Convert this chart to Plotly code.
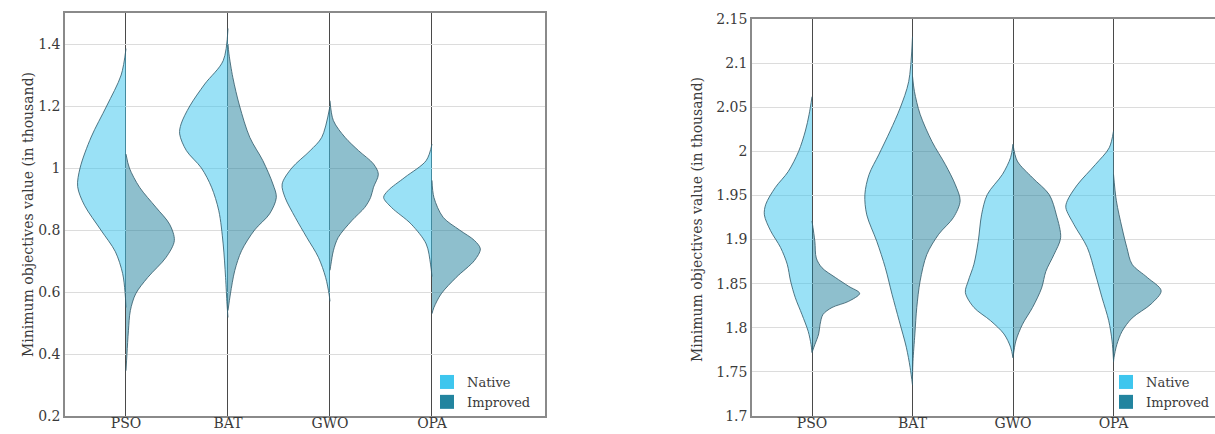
import plotly.graph_objects as go

# ---------------- data ----------------
algorithms = ["PSO", "BAT", "GWO", "OPA"]

# Left panel: relative half-width profiles (value in thousand, relative density)
L_PSO_native_v = [1.385, 1.30, 1.20, 1.10, 1.00, 0.94, 0.88, 0.80, 0.73, 0.66, 0.60, 0.55]
L_PSO_native_d = [0.0, 0.10, 0.40, 0.72, 0.95, 1.0, 0.86, 0.52, 0.22, 0.07, 0.02, 0.0]
L_PSO_impr_v = [1.045, 1.00, 0.938, 0.873, 0.819, 0.766, 0.712, 0.647, 0.594, 0.54, 0.475, 0.40, 0.346]
L_PSO_impr_d = [0.0, 0.07, 0.28, 0.62, 0.90, 1.0, 0.83, 0.45, 0.20, 0.09, 0.05, 0.02, 0.0]

L_BAT_native_v = [1.45, 1.346, 1.271, 1.20, 1.142, 1.11, 1.056, 1.00, 0.938, 0.862, 0.755, 0.647, 0.561, 0.518]
L_BAT_native_d = [0.0, 0.10, 0.48, 0.79, 0.97, 1.0, 0.86, 0.55, 0.34, 0.19, 0.10, 0.05, 0.02, 0.0]
L_BAT_impr_v = [1.40, 1.368, 1.292, 1.20, 1.099, 1.024, 0.948, 0.905, 0.852, 0.80, 0.733, 0.669, 0.594, 0.54]
L_BAT_impr_d = [0.0, 0.02, 0.10, 0.24, 0.45, 0.72, 0.93, 1.0, 0.86, 0.55, 0.28, 0.14, 0.05, 0.0]

L_GWO_native_v = [1.20, 1.099, 1.056, 1.00, 0.948, 0.905, 0.841, 0.776, 0.712, 0.647, 0.594, 0.57]
L_GWO_native_d = [0.0, 0.17, 0.41, 0.79, 0.99, 0.93, 0.72, 0.48, 0.24, 0.09, 0.02, 0.0]
L_GWO_impr_v = [1.217, 1.153, 1.099, 1.056, 1.013, 0.98, 0.938, 0.905, 0.873, 0.83, 0.776, 0.733, 0.69, 0.67]
L_GWO_impr_d = [0.0, 0.07, 0.31, 0.59, 0.90, 1.0, 0.90, 0.84, 0.72, 0.45, 0.17, 0.07, 0.02, 0.0]

L_OPA_native_v = [1.077, 1.024, 0.97, 0.927, 0.905, 0.873, 0.819, 0.755, 0.69, 0.65]
L_OPA_native_d = [0.0, 0.12, 0.56, 0.91, 1.0, 0.84, 0.43, 0.12, 0.03, 0.0]
L_OPA_impr_v = [0.96, 0.905, 0.841, 0.80, 0.766, 0.739, 0.702, 0.647, 0.594, 0.55, 0.53]
L_OPA_impr_d = [0.0, 0.04, 0.23, 0.57, 0.88, 1.0, 0.88, 0.50, 0.19, 0.04, 0.0]

# Right panel
R_PSO_native_v = [2.062, 2.042, 2.023, 2.00, 1.977, 1.959, 1.94, 1.928, 1.91, 1.891, 1.872, 1.853, 1.834, 1.815, 1.796, 1.781, 1.772]
R_PSO_native_d = [0.0, 0.06, 0.14, 0.28, 0.50, 0.77, 0.97, 1.0, 0.87, 0.66, 0.52, 0.45, 0.35, 0.21, 0.08, 0.02, 0.0]
R_PSO_impr_v = [1.921, 1.898, 1.879, 1.868, 1.857, 1.847, 1.839, 1.830, 1.823, 1.815, 1.804, 1.793, 1.781, 1.772]
R_PSO_impr_d = [0.0, 0.06, 0.09, 0.21, 0.49, 0.77, 1.0, 0.77, 0.42, 0.23, 0.17, 0.14, 0.06, 0.0]

R_BAT_native_v = [2.13, 2.079, 2.049, 2.023, 1.996, 1.974, 1.951, 1.928, 1.898, 1.868, 1.838, 1.808, 1.778, 1.755, 1.735]
R_BAT_native_d = [0.0, 0.08, 0.26, 0.47, 0.71, 0.91, 1.0, 0.96, 0.75, 0.57, 0.43, 0.28, 0.13, 0.05, 0.0]
R_BAT_impr_v = [2.085, 2.068, 2.042, 2.011, 1.985, 1.962, 1.944, 1.925, 1.906, 1.883, 1.853, 1.823, 1.793, 1.762, 1.745]
R_BAT_impr_d = [0.0, 0.04, 0.16, 0.41, 0.69, 0.90, 1.0, 0.86, 0.55, 0.30, 0.16, 0.09, 0.05, 0.01, 0.0]

R_GWO_native_v = [2.008, 1.993, 1.974, 1.951, 1.928, 1.898, 1.872, 1.853, 1.840, 1.823, 1.808, 1.793, 1.778, 1.766]
R_GWO_native_d = [0.0, 0.05, 0.22, 0.54, 0.66, 0.73, 0.82, 0.94, 1.0, 0.82, 0.47, 0.19, 0.05, 0.0]
R_GWO_impr_v = [2.008, 1.989, 1.970, 1.951, 1.928, 1.902, 1.883, 1.864, 1.845, 1.823, 1.804, 1.785, 1.766]
R_GWO_impr_d = [0.0, 0.09, 0.41, 0.76, 0.91, 1.0, 0.86, 0.69, 0.60, 0.41, 0.20, 0.06, 0.0]

R_OPA_native_v = [2.023, 2.004, 1.985, 1.962, 1.944, 1.936, 1.917, 1.891, 1.861, 1.834, 1.808, 1.785, 1.763]
R_OPA_native_d = [0.0, 0.09, 0.38, 0.76, 0.97, 1.0, 0.83, 0.55, 0.38, 0.24, 0.10, 0.03, 0.0]
R_OPA_impr_v = [1.974, 1.944, 1.913, 1.891, 1.872, 1.857, 1.842, 1.827, 1.811, 1.796, 1.781, 1.766, 1.761]
R_OPA_impr_d = [0.0, 0.06, 0.18, 0.28, 0.39, 0.71, 1.0, 0.79, 0.39, 0.18, 0.07, 0.01, 0.0]

left_native = [(L_PSO_native_v, L_PSO_native_d), (L_BAT_native_v, L_BAT_native_d),
               (L_GWO_native_v, L_GWO_native_d), (L_OPA_native_v, L_OPA_native_d)]
left_impr = [(L_PSO_impr_v, L_PSO_impr_d), (L_BAT_impr_v, L_BAT_impr_d),
             (L_GWO_impr_v, L_GWO_impr_d), (L_OPA_impr_v, L_OPA_impr_d)]
right_native = [(R_PSO_native_v, R_PSO_native_d), (R_BAT_native_v, R_BAT_native_d),
                (R_GWO_native_v, R_GWO_native_d), (R_OPA_native_v, R_OPA_native_d)]
right_impr = [(R_PSO_impr_v, R_PSO_impr_d), (R_BAT_impr_v, R_BAT_impr_d),
              (R_GWO_impr_v, R_GWO_impr_d), (R_OPA_impr_v, R_OPA_impr_d)]

left_ticks = [0.2, 0.4, 0.6, 0.8, 1.0, 1.2, 1.4]
left_ticktext = ["0.2", "0.4", "0.6", "0.8", "1", "1.2", "1.4"]
right_ticks = [1.7, 1.75, 1.8, 1.85, 1.9, 1.95, 2.0, 2.05, 2.1, 2.15]
right_ticktext = ["1.7", "1.75", "1.8", "1.85", "1.9", "1.95", "2", "2.05", "2.1", "2.15"]

# ---------------- styling ----------------
HALF = 0.474
NATIVE_FILL = "rgba(62,198,238,0.52)"
IMPR_FILL = "rgba(30,128,156,0.50)"
NATIVE_SOLID = "#3EC6EE"
IMPR_SOLID = "#22849F"
EDGE = "rgba(55,95,110,0.85)"
FONT = "DejaVu Serif"
TXT = "#3a3a3a"

fig = go.Figure()


def add_half(vals, dens, idx, side, xa, ya, fill):
    sign = -1 if side == "left" else 1
    xs = [idx + sign * HALF * d for d in dens]
    fig.add_trace(go.Scatter(
        x=xs, y=vals, xaxis=xa, yaxis=ya, mode="lines",
        line=dict(color=EDGE, width=1, shape="spline", smoothing=0.9),
        fill="toself", fillcolor=fill, showlegend=False, hoverinfo="skip"))


for i in range(4):
    add_half(*left_native[i], i, "left", "x", "y", NATIVE_FILL)
    add_half(*left_impr[i], i, "right", "x", "y", IMPR_FILL)
    add_half(*right_native[i], i, "left", "x2", "y2", NATIVE_FILL)
    add_half(*right_impr[i], i, "right", "x2", "y2", IMPR_FILL)

# legend entries
for name, col, lg, xa, ya in [("Native", NATIVE_SOLID, "legend", "x", "y"),
                              ("Improved", IMPR_SOLID, "legend", "x", "y"),
                              ("Native", NATIVE_SOLID, "legend2", "x2", "y2"),
                              ("Improved", IMPR_SOLID, "legend2", "x2", "y2")]:
    fig.add_trace(go.Scatter(x=[None], y=[None], xaxis=xa, yaxis=ya, mode="markers",
                             marker=dict(symbol="square", size=14, color=col),
                             name=name, legend=lg, showlegend=True))

W, H = 1215, 434
xcommon = dict(tickvals=[0, 1, 2, 3], ticktext=algorithms, showgrid=True,
               gridcolor="#4a4a4a", gridwidth=1, showline=True, linecolor="#8a8a8a",
               linewidth=1.5, ticks="", zeroline=False, automargin=False,
               ticklabelstandoff=-7,
               tickfont=dict(family=FONT, size=14, color=TXT))
ycommon = dict(showgrid=True, gridcolor="#dcdcdc", gridwidth=1, showline=True,
               linecolor="#8a8a8a", linewidth=1.5, ticks="", zeroline=False,
               automargin=False, tickfont=dict(family=FONT, size=14, color=TXT))

fig.update_layout(
    width=W, height=H, margin=dict(l=0, r=0, t=0, b=0),
    font=dict(family=FONT, size=14, color=TXT),
    plot_bgcolor="white", paper_bgcolor="white",
    xaxis=dict(domain=[65 / W, 545 / W], range=[-0.598, 4.108], mirror=True, **xcommon),
    yaxis=dict(domain=[(H - 416) / H, (H - 13) / H], range=[0.2, 1.5],
               tickvals=left_ticks, ticktext=left_ticktext, mirror=True, **ycommon),
    xaxis2=dict(domain=[752 / W, 1.0], range=[-0.597, 4.01], mirror=True,
                anchor="y2", **xcommon),
    yaxis2=dict(domain=[(H - 416) / H, (H - 19) / H], range=[1.7, 2.15],
                tickvals=right_ticks, ticktext=right_ticktext, anchor="x2", **ycommon),
    legend=dict(x=536 / W, y=(H - 367) / H, xanchor="right", yanchor="top",
                bgcolor="rgba(0,0,0,0)", font=dict(family=FONT, size=13, color=TXT),
                itemwidth=30, tracegroupgap=0),
    legend2=dict(x=1.0, y=(H - 367) / H, xanchor="right", yanchor="top",
                 bgcolor="rgba(0,0,0,0)", font=dict(family=FONT, size=13, color=TXT),
                 itemwidth=30, tracegroupgap=0),
    annotations=[
        dict(text="Minimum objectives value (in thousand)", x=18 / W, y=(H - 215) / H,
             xref="paper", yref="paper", textangle=-90, showarrow=False,
             font=dict(family=FONT, size=14, color=TXT)),
        dict(text="Minimum objectives value (in thousand)", x=697 / W, y=(H - 220) / H,
             xref="paper", yref="paper", textangle=-90, showarrow=False,
             font=dict(family=FONT, size=14, color=TXT)),
    ],
)

fig.write_html("out.html")
